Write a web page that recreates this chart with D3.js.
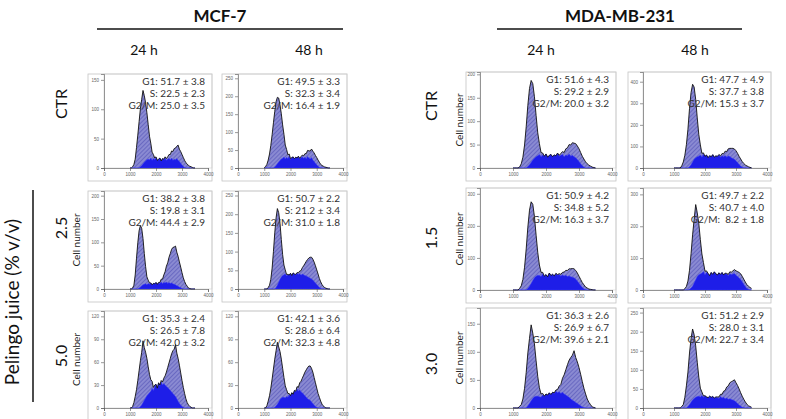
<!DOCTYPE html>
<html><head><meta charset="utf-8">
<script src="https://cdn.jsdelivr.net/npm/d3@7"></script>
<style>
body{margin:0;background:#fff}
svg{display:block;font-family:Lato,"Liberation Sans",sans-serif}
</style></head>
<body><svg id="c" width="786" height="419"></svg>
<script>
// ---------- DATA ----------
const channels=[1000,1050,1100,1150,1200,1250,1300,1350,1400,1450,1500,1550,1600,1650,1700,1750,1800,1850,1900,1950,2000,2050,2100,2150,2200,2250,2300,2350,2400,2450,2500,2550,2600,2650,2700,2750,2800,2850,2900,2950,3000,3050,3100,3150,3200,3250,3300,3350,3400,3450,3500];
const xTicks=[0,1000,2000,3000,4000];
const cellLines=["MCF-7","MDA-MB-231"];
const times=["24 h","48 h"];
const doseMCF=["CTR","2.5","5.0"];
const doseMDA=["CTR","1.5","3.0"];

// MCF-7 24 h
const rawA1=[0,0,2,6,15,35,56,79,101,117,132,123,111,94,74,54,42,27,23,17,19,13,15,17,12,16,15,19,16,19,23,23,29,28,33,34,37,39,32,28,23,18,13,9,7,4,3,2,1,0,0];
const sA1=[0,0,0,0,0,0,0,0,2,4,7,10,12,14,15,14,17,13,16,14,18,13,15,17,12,16,14,17,13,15,16,14,17,13,15,14,16,13,11,8,5,3,1,0,0,0,0,0,0,0,0];
const rawA2=[0,0,2,8,30,66,99,125,136,130,108,76,48,26,19,13,13,9,12,11,14,10,14,14,21,21,30,37,49,56,68,76,85,89,90,92,79,70,58,47,35,24,16,10,6,2,1,0,0,0,0];
const sA2=[0,0,0,0,0,0,0,2,4,7,9,10,11,9,12,10,13,9,12,11,14,10,13,12,15,11,14,13,15,12,14,12,13,11,10,9,7,6,4,3,1,0,0,0,0,0,0,0,0,0,0];
const rawA3=[0,0,2,7,15,24,36,49,62,73,88,79,73,65,54,44,37,35,27,30,31,26,33,30,36,34,39,42,47,53,59,65,71,75,77,83,72,65,56,46,36,27,19,12,7,4,2,1,0,0,0];
const sA3=[0,0,0,0,0,0,0,0,2,4,7,10,13,16,18,20,22,26,23,28,31,26,33,29,34,30,32,30,28,27,25,23,21,19,17,15,12,9,6,4,2,1,0,0,0,0,0,0,0,0,0];
// MCF-7 48 h
const rawB1=[1,4,10,22,39,63,93,126,158,185,197,195,176,151,120,94,64,52,37,39,26,29,31,26,30,28,33,27,32,36,34,40,40,49,48,47,53,47,42,35,29,22,16,10,7,5,3,2,1,0,0];
const sB1=[0,0,0,0,0,0,0,0,3,7,12,17,21,25,27,31,25,30,26,33,24,29,31,26,30,28,32,25,29,31,27,30,26,32,28,25,29,22,18,13,9,5,2,0,0,0,0,0,0,0,0];
const rawB2=[0,0,0,4,10,26,56,100,150,190,215,204,176,132,92,64,51,39,39,37,42,36,43,40,39,44,43,48,49,57,62,68,74,79,83,85,85,80,72,62,51,40,28,19,12,7,4,2,1,0,0];
const sB2=[0,0,0,0,0,0,0,0,0,4,10,18,26,32,36,38,41,35,39,37,42,36,43,40,38,42,39,41,37,40,38,36,35,33,31,29,27,24,20,16,12,8,4,2,0,0,0,0,0,0,0];
const rawB3=[0,0,3,9,16,26,38,51,64,75,86,80,74,64,52,40,29,24,19,19,16,20,18,23,22,28,27,33,35,39,43,47,50,53,55,55,52,47,40,33,26,19,14,9,5,3,1,0,0,0,0];
const sB3=[0,0,0,0,0,0,0,0,1,3,5,8,11,13,14,14,13,15,14,17,16,20,18,23,21,25,22,24,21,20,18,16,14,12,11,10,8,6,4,2,1,0,0,0,0,0,0,0,0,0,0];
// MDA-MB-231 24 h
const rawC1=[0,0,0,0,2,9,23,49,88,134,170,187,180,152,112,75,52,33,32,25,30,23,27,29,24,28,26,32,27,31,35,33,41,43,50,49,54,53,52,47,41,33,25,19,13,9,6,4,2,1,0];
const sC1=[0,0,0,0,0,0,0,0,0,3,7,12,17,21,24,26,29,24,28,25,30,23,27,29,24,28,26,31,25,27,29,24,28,26,30,25,27,24,22,18,14,9,5,2,0,0,0,0,0,0,0];
const rawC2=[0,0,0,0,5,13,33,71,128,196,249,275,267,229,171,117,78,55,55,43,48,41,53,45,49,44,52,48,51,49,55,56,61,61,66,66,67,66,61,53,43,33,23,16,9,6,3,2,1,0,0];
const sC2=[0,0,0,0,0,0,0,0,0,5,12,20,30,38,43,46,45,42,50,43,48,41,53,45,49,44,51,46,48,43,47,44,46,42,44,41,40,38,34,28,21,14,8,4,1,0,0,0,0,0,0];
const rawC3=[0,0,0,0,3,6,16,35,63,98,124,148,133,114,84,56,36,25,26,21,25,23,27,24,28,27,32,33,39,42,53,59,68,77,85,90,94,102,90,82,72,60,47,35,25,16,10,6,2,1,0];
const sC3=[0,0,0,0,0,0,0,0,0,4,8,13,17,20,21,21,20,19,23,21,25,23,27,24,28,26,30,27,29,26,28,25,23,21,19,16,14,12,10,8,6,4,2,1,0,0,0,0,0,0,0];
// MDA-MB-231 48 h
const rawD1=[0,0,0,0,0,10,28,59,108,180,276,350,388,375,318,232,155,107,68,70,54,60,48,57,52,62,50,56,54,63,56,67,66,78,76,89,91,91,91,88,80,68,54,42,30,21,14,10,6,3,1];
const sD1=[0,0,0,0,0,0,0,0,0,0,6,15,28,40,48,52,55,60,50,63,54,60,48,57,52,62,50,56,53,60,50,57,52,58,50,56,53,48,44,40,33,25,16,9,4,1,0,0,0,0,0];
const rawD2=[0,0,0,0,0,0,0,4,11,28,62,114,173,222,268,242,209,158,113,86,59,60,52,45,55,49,57,51,47,54,49,55,47,53,52,49,57,56,60,64,60,58,55,51,43,34,25,17,12,8,5];
const sD2=[0,0,0,0,0,0,0,0,0,0,2,6,12,22,32,42,48,50,53,58,48,56,52,45,55,49,57,51,47,54,49,55,47,52,50,45,52,48,50,52,46,42,38,33,26,18,11,5,2,0,0];
const rawD3=[0,0,0,0,0,4,9,28,58,94,144,182,207,192,163,120,81,52,42,32,32,29,27,31,28,30,26,29,29,29,36,36,44,46,55,58,66,69,71,74,66,59,50,40,31,23,16,10,6,4,2];
const sD3=[0,0,0,0,0,0,0,0,0,4,9,15,21,25,28,30,31,29,33,28,32,29,27,31,28,30,26,28,27,25,30,26,28,24,26,23,24,22,21,19,16,12,8,5,2,1,0,0,0,0,0];

const statsA1=["G1: 51.7 ± 3.8","S: 22.5 ± 2.3","G2/M: 25.0 ± 3.5"];
const statsB1=["G1: 49.5 ± 3.3","S: 32.3 ± 3.4","G2/M: 16.4 ± 1.9"];
const statsC1=["G1: 51.6 ± 4.3","S: 29.2 ± 2.9","G2/M: 20.0 ± 3.2"];
const statsD1=["G1: 47.7 ± 4.9","S: 37.7 ± 3.8","G2/M: 15.3 ± 3.7"];
const statsA2=["G1: 38.2 ± 3.8","S: 19.8 ± 3.1","G2/M: 44.4 ± 2.9"];
const statsB2=["G1: 50.7 ± 2.2","S: 21.2 ± 3.4","G2/M: 31.0 ± 1.8"];
const statsC2=["G1: 50.9 ± 4.2","S: 34.8 ± 5.2","G2/M: 16.3 ± 3.7"];
const statsD2=["G1: 49.7 ± 2.2","S: 40.7 ± 4.0","G2/M:  8.2 ± 1.8"];
const statsA3=["G1: 35.3 ± 2.4","S: 26.5 ± 7.8","G2/M: 42.0 ± 3.2"];
const statsB3=["G1: 42.1 ± 3.6","S: 28.6 ± 6.4","G2/M: 32.3 ± 4.8"];
const statsC3=["G1: 36.3 ± 2.6","S: 26.9 ± 6.7","G2/M: 39.6 ± 2.1"];
const statsD3=["G1: 51.2 ± 2.9","S: 28.0 ± 3.1","G2/M: 22.7 ± 3.4"];

const yTicksA1=[0,50,100,150], yTicksB1=[0,50,100,150,200,250], yTicksC1=[0,50,100,150,200], yTicksD1=[0,100,200,300,400];
const yTicksA2=[0,50,100,150,200], yTicksB2=[0,50,100,150,200,250], yTicksC2=[0,100,200,300], yTicksD2=[0,100,200,300];
const yTicksA3=[0,30,60,90,120], yTicksB3=[0,30,60,90,120], yTicksC3=[0,50,100,150], yTicksD3=[0,50,100,150,200,250];
const yMax={A1:160,B1:262,C1:205,D1:445,A2:210,B2:262,C2:318,D2:320,A3:127,B3:127,C3:178,D3:262};

// ---------- LAYOUT ----------
const cols={A:{fl:88,l:104,r:208},B:{fl:222,l:238,r:343},C:{fl:466,l:480,r:612},D:{fl:628,l:643,r:767}};
const rowsMCF=[[74,168],[191,289],[311,408]];
const rowsMDA=[[72,168],[188,290],[308,408]];

const panels=[
 {c:"A",r:0,raw:rawA1,s:sA1,st:statsA1,yt:yTicksA1,ym:yMax.A1,lab:false},
 {c:"B",r:0,raw:rawB1,s:sB1,st:statsB1,yt:yTicksB1,ym:yMax.B1,lab:false},
 {c:"C",r:0,raw:rawC1,s:sC1,st:statsC1,yt:yTicksC1,ym:yMax.C1,lab:true},
 {c:"D",r:0,raw:rawD1,s:sD1,st:statsD1,yt:yTicksD1,ym:yMax.D1,lab:false},
 {c:"A",r:1,raw:rawA2,s:sA2,st:statsA2,yt:yTicksA2,ym:yMax.A2,lab:true},
 {c:"B",r:1,raw:rawB2,s:sB2,st:statsB2,yt:yTicksB2,ym:yMax.B2,lab:false},
 {c:"C",r:1,raw:rawC2,s:sC2,st:statsC2,yt:yTicksC2,ym:yMax.C2,lab:true},
 {c:"D",r:1,raw:rawD2,s:sD2,st:statsD2,yt:yTicksD2,ym:yMax.D2,lab:false},
 {c:"A",r:2,raw:rawA3,s:sA3,st:statsA3,yt:yTicksA3,ym:yMax.A3,lab:true},
 {c:"B",r:2,raw:rawB3,s:sB3,st:statsB3,yt:yTicksB3,ym:yMax.B3,lab:false},
 {c:"C",r:2,raw:rawC3,s:sC3,st:statsC3,yt:yTicksC3,ym:yMax.C3,lab:true},
 {c:"D",r:2,raw:rawD3,s:sD3,st:statsD3,yt:yTicksD3,ym:yMax.D3,lab:false}
];

const svg=d3.select("#c");
const defs=svg.append("defs");
const pat=defs.append("pattern").attr("id","hatch").attr("patternUnits","userSpaceOnUse")
 .attr("width",3).attr("height",3).attr("patternTransform","rotate(45)");
pat.append("rect").attr("width",3).attr("height",3).attr("fill","#8a8ad2");
pat.append("line").attr("x1",0).attr("y1",0).attr("x2",0).attr("y2",3).attr("stroke","#5252b6").attr("stroke-width",1.2);

panels.forEach(p=>{
  const col=cols[p.c];
  const rr=(p.c==="A"||p.c==="B")?rowsMCF[p.r]:rowsMDA[p.r];
  const top=rr[0], base=rr[1];
  const x=d3.scaleLinear().domain([0,4000]).range([col.l,col.r]);
  const y=d3.scaleLinear().domain([0,p.ym]).range([base,top]);
  const g=svg.append("g");
  g.append("rect").attr("x",col.fl).attr("y",top).attr("width",col.r+4-col.fl).attr("height",base+13-top)
   .attr("fill","#fff").attr("stroke","#c4c4c4").attr("stroke-width",0.8);
  g.append("rect").attr("x",col.l).attr("y",top).attr("width",col.r+4-col.l).attr("height",base-top)
   .attr("fill","none").attr("stroke","#d0d0d0").attr("stroke-width",0.6);
  const data=channels.map((ch,k)=>({ch,raw:p.raw[k],s:p.s[k]}));
  g.append("path").datum(data).attr("d",d3.area().x(d=>x(d.ch)).y0(y(0)).y1(d=>y(d.raw))).attr("fill","url(#hatch)");
  g.append("path").datum(data).attr("d",d3.area().x(d=>x(d.ch)).y0(y(0)).y1(d=>y(d.s))).attr("fill","#1e1ee8").attr("stroke","#3a3aff").attr("stroke-width",0.5);
  g.append("path").datum(data).attr("d",d3.line().x(d=>x(d.ch)).y(d=>y(d.raw))).attr("fill","none").attr("stroke","#111").attr("stroke-width",0.9);
  const ya=g.append("g").attr("transform",`translate(${col.l},0)`).call(d3.axisLeft(y).tickValues(p.yt).tickSize(3).tickPadding(2).tickFormat(d3.format("d")));
  const xa=g.append("g").attr("transform",`translate(0,${base})`).call(d3.axisBottom(x).tickValues(xTicks).tickSize(3).tickPadding(2).tickFormat(d3.format("d")));
  [ya,xa].forEach(a=>{a.selectAll("text").attr("font-size",4.5).attr("fill","#666");a.selectAll("line,path").attr("stroke","#555").attr("stroke-width",0.6);});
  const tg=g.append("g").attr("font-size",10).attr("fill","#333").attr("text-anchor","end");
  p.st.forEach((t,k)=>tg.append("text").attr("x",col.r-3).attr("y",top+11+k*12).attr("xml:space","preserve").text(t));
  if(p.lab){
    const cx=p.c==="A"?80:463;
    svg.append("text").attr("transform",`translate(${cx},${(top+base)/2}) rotate(-90)`).attr("text-anchor","middle")
      .attr("font-size",10).attr("fill","#222").text("Cell number");
  }
});

// headers
const hdr=[{t:cellLines[0],cx:220,l1:97,l2:343,t1:144,t2:309},{t:cellLines[1],cx:620,l1:497,l2:742,t1:541,t2:695}];
hdr.forEach(h=>{
  svg.append("text").attr("x",h.cx).attr("y",22).attr("text-anchor","middle").attr("font-size",17).attr("font-weight","bold").attr("fill","#111").text(h.t);
  svg.append("line").attr("x1",h.l1).attr("x2",h.l2).attr("y1",29).attr("y2",29).attr("stroke","#111").attr("stroke-width",1.5);
  svg.append("text").attr("x",h.t1).attr("y",55).attr("text-anchor","middle").attr("font-size",14).attr("fill","#111").text(times[0]);
  svg.append("text").attr("x",h.t2).attr("y",55).attr("text-anchor","middle").attr("font-size",14).attr("fill","#111").text(times[1]);
});
const rowLab=(t,x,y,fs)=>svg.append("text").attr("transform",`translate(${x},${y}) rotate(-90)`).attr("text-anchor","middle").attr("font-size",fs).attr("fill","#111").text(t);
rowLab(doseMCF[0],67,104,16); rowLab(doseMCF[1],67,228,16); rowLab(doseMCF[2],67,356,16);
rowLab(doseMDA[0],437,106,16); rowLab(doseMDA[1],437,238,16); rowLab(doseMDA[2],437,364,16);
rowLab("Pelingo juice (% v/v)",19,302,19);
svg.append("line").attr("x1",33).attr("x2",33).attr("y1",190).attr("y2",402).attr("stroke","#111").attr("stroke-width",1.5);
</script></body></html>
